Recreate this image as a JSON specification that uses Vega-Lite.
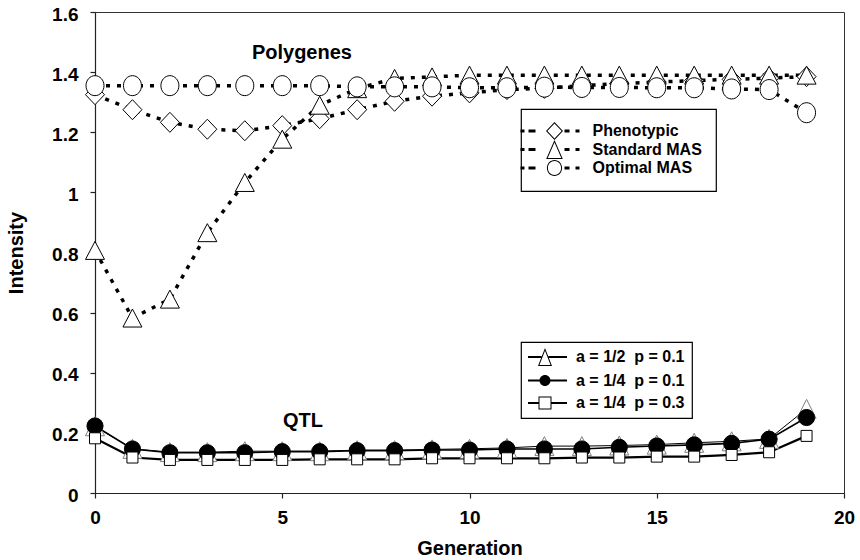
{
  "$schema": "https://vega.github.io/schema/vega-lite/v6.json",
  "width": 749,
  "height": 481,
  "autosize": {"type": "none"},
  "padding": {"left": 95, "top": 12, "right": 16, "bottom": 67},
  "background": "white",
  "config": {
    "font": "Liberation Sans",
    "view": {"stroke": "#333", "strokeWidth": 1},
    "axis": {
      "grid": false,
      "domainColor": "#222",
      "domainWidth": 1.2,
      "tickColor": "#222",
      "tickWidth": 1.2,
      "tickSize": 5,
      "labelFont": "Liberation Sans",
      "labelFontSize": 19,
      "labelFontWeight": "bold",
      "labelColor": "black",
      "titleFont": "Liberation Sans",
      "titleFontSize": 20,
      "titleFontWeight": "bold",
      "titleColor": "black"
    },
    "legend": {
      "labelFont": "Liberation Sans",
      "labelFontSize": 16,
      "labelFontWeight": "bold",
      "labelColor": "black",
      "strokeWidth": 1.2
    }
  },
  "datasets": {
    "poly": [
      {"gen": 0, "scheme": "Phenotypic", "value": 1.325},
      {"gen": 1, "scheme": "Phenotypic", "value": 1.275},
      {"gen": 2, "scheme": "Phenotypic", "value": 1.233},
      {"gen": 3, "scheme": "Phenotypic", "value": 1.21},
      {"gen": 4, "scheme": "Phenotypic", "value": 1.205},
      {"gen": 5, "scheme": "Phenotypic", "value": 1.222},
      {"gen": 6, "scheme": "Phenotypic", "value": 1.245},
      {"gen": 7, "scheme": "Phenotypic", "value": 1.275},
      {"gen": 8, "scheme": "Phenotypic", "value": 1.303},
      {"gen": 9, "scheme": "Phenotypic", "value": 1.32},
      {"gen": 10, "scheme": "Phenotypic", "value": 1.331},
      {"gen": 11, "scheme": "Phenotypic", "value": 1.342},
      {"gen": 12, "scheme": "Phenotypic", "value": 1.346},
      {"gen": 13, "scheme": "Phenotypic", "value": 1.355},
      {"gen": 14, "scheme": "Phenotypic", "value": 1.362},
      {"gen": 15, "scheme": "Phenotypic", "value": 1.367},
      {"gen": 16, "scheme": "Phenotypic", "value": 1.372},
      {"gen": 17, "scheme": "Phenotypic", "value": 1.376},
      {"gen": 18, "scheme": "Phenotypic", "value": 1.38},
      {"gen": 19, "scheme": "Phenotypic", "value": 1.385},
      {"gen": 0, "scheme": "Standard MAS", "value": 0.807},
      {"gen": 1, "scheme": "Standard MAS", "value": 0.582},
      {"gen": 2, "scheme": "Standard MAS", "value": 0.645},
      {"gen": 3, "scheme": "Standard MAS", "value": 0.866},
      {"gen": 4, "scheme": "Standard MAS", "value": 1.033},
      {"gen": 5, "scheme": "Standard MAS", "value": 1.177},
      {"gen": 6, "scheme": "Standard MAS", "value": 1.29},
      {"gen": 7, "scheme": "Standard MAS", "value": 1.345},
      {"gen": 8, "scheme": "Standard MAS", "value": 1.379},
      {"gen": 9, "scheme": "Standard MAS", "value": 1.384},
      {"gen": 10, "scheme": "Standard MAS", "value": 1.39},
      {"gen": 11, "scheme": "Standard MAS", "value": 1.39},
      {"gen": 12, "scheme": "Standard MAS", "value": 1.39},
      {"gen": 13, "scheme": "Standard MAS", "value": 1.39},
      {"gen": 14, "scheme": "Standard MAS", "value": 1.39},
      {"gen": 15, "scheme": "Standard MAS", "value": 1.39},
      {"gen": 16, "scheme": "Standard MAS", "value": 1.39},
      {"gen": 17, "scheme": "Standard MAS", "value": 1.39},
      {"gen": 18, "scheme": "Standard MAS", "value": 1.39},
      {"gen": 19, "scheme": "Standard MAS", "value": 1.39},
      {"gen": 0, "scheme": "Optimal MAS", "value": 1.355},
      {"gen": 1, "scheme": "Optimal MAS", "value": 1.355},
      {"gen": 2, "scheme": "Optimal MAS", "value": 1.355},
      {"gen": 3, "scheme": "Optimal MAS", "value": 1.355},
      {"gen": 4, "scheme": "Optimal MAS", "value": 1.355},
      {"gen": 5, "scheme": "Optimal MAS", "value": 1.355},
      {"gen": 6, "scheme": "Optimal MAS", "value": 1.355},
      {"gen": 7, "scheme": "Optimal MAS", "value": 1.351},
      {"gen": 8, "scheme": "Optimal MAS", "value": 1.351},
      {"gen": 9, "scheme": "Optimal MAS", "value": 1.351},
      {"gen": 10, "scheme": "Optimal MAS", "value": 1.348},
      {"gen": 11, "scheme": "Optimal MAS", "value": 1.348},
      {"gen": 12, "scheme": "Optimal MAS", "value": 1.35},
      {"gen": 13, "scheme": "Optimal MAS", "value": 1.349},
      {"gen": 14, "scheme": "Optimal MAS", "value": 1.349},
      {"gen": 15, "scheme": "Optimal MAS", "value": 1.348},
      {"gen": 16, "scheme": "Optimal MAS", "value": 1.348},
      {"gen": 17, "scheme": "Optimal MAS", "value": 1.344},
      {"gen": 18, "scheme": "Optimal MAS", "value": 1.342},
      {"gen": 19, "scheme": "Optimal MAS", "value": 1.265}
    ],
    "qtl": [
      {"gen": 0, "effect": "a = 1/2\u00a0 p = 0.1", "value": 0.222},
      {"gen": 1, "effect": "a = 1/2\u00a0 p = 0.1", "value": 0.147},
      {"gen": 2, "effect": "a = 1/2\u00a0 p = 0.1", "value": 0.136},
      {"gen": 3, "effect": "a = 1/2\u00a0 p = 0.1", "value": 0.136},
      {"gen": 4, "effect": "a = 1/2\u00a0 p = 0.1", "value": 0.139},
      {"gen": 5, "effect": "a = 1/2\u00a0 p = 0.1", "value": 0.139},
      {"gen": 6, "effect": "a = 1/2\u00a0 p = 0.1", "value": 0.139},
      {"gen": 7, "effect": "a = 1/2\u00a0 p = 0.1", "value": 0.1425},
      {"gen": 8, "effect": "a = 1/2\u00a0 p = 0.1", "value": 0.1425},
      {"gen": 9, "effect": "a = 1/2\u00a0 p = 0.1", "value": 0.145},
      {"gen": 10, "effect": "a = 1/2\u00a0 p = 0.1", "value": 0.147},
      {"gen": 11, "effect": "a = 1/2\u00a0 p = 0.1", "value": 0.15},
      {"gen": 12, "effect": "a = 1/2\u00a0 p = 0.1", "value": 0.156},
      {"gen": 13, "effect": "a = 1/2\u00a0 p = 0.1", "value": 0.156},
      {"gen": 14, "effect": "a = 1/2\u00a0 p = 0.1", "value": 0.158},
      {"gen": 15, "effect": "a = 1/2\u00a0 p = 0.1", "value": 0.161},
      {"gen": 16, "effect": "a = 1/2\u00a0 p = 0.1", "value": 0.167},
      {"gen": 17, "effect": "a = 1/2\u00a0 p = 0.1", "value": 0.172},
      {"gen": 18, "effect": "a = 1/2\u00a0 p = 0.1", "value": 0.18},
      {"gen": 19, "effect": "a = 1/2\u00a0 p = 0.1", "value": 0.28},
      {"gen": 0, "effect": "a = 1/4\u00a0 p = 0.1", "value": 0.223},
      {"gen": 1, "effect": "a = 1/4\u00a0 p = 0.1", "value": 0.1465},
      {"gen": 2, "effect": "a = 1/4\u00a0 p = 0.1", "value": 0.134},
      {"gen": 3, "effect": "a = 1/4\u00a0 p = 0.1", "value": 0.134},
      {"gen": 4, "effect": "a = 1/4\u00a0 p = 0.1", "value": 0.134},
      {"gen": 5, "effect": "a = 1/4\u00a0 p = 0.1", "value": 0.1375},
      {"gen": 6, "effect": "a = 1/4\u00a0 p = 0.1", "value": 0.1375},
      {"gen": 7, "effect": "a = 1/4\u00a0 p = 0.1", "value": 0.141},
      {"gen": 8, "effect": "a = 1/4\u00a0 p = 0.1", "value": 0.141},
      {"gen": 9, "effect": "a = 1/4\u00a0 p = 0.1", "value": 0.143},
      {"gen": 10, "effect": "a = 1/4\u00a0 p = 0.1", "value": 0.143},
      {"gen": 11, "effect": "a = 1/4\u00a0 p = 0.1", "value": 0.1465},
      {"gen": 12, "effect": "a = 1/4\u00a0 p = 0.1", "value": 0.1465},
      {"gen": 13, "effect": "a = 1/4\u00a0 p = 0.1", "value": 0.1465},
      {"gen": 14, "effect": "a = 1/4\u00a0 p = 0.1", "value": 0.152},
      {"gen": 15, "effect": "a = 1/4\u00a0 p = 0.1", "value": 0.1565},
      {"gen": 16, "effect": "a = 1/4\u00a0 p = 0.1", "value": 0.16},
      {"gen": 17, "effect": "a = 1/4\u00a0 p = 0.1", "value": 0.165},
      {"gen": 18, "effect": "a = 1/4\u00a0 p = 0.1", "value": 0.179},
      {"gen": 19, "effect": "a = 1/4\u00a0 p = 0.1", "value": 0.251},
      {"gen": 0, "effect": "a = 1/4\u00a0 p = 0.3", "value": 0.182},
      {"gen": 1, "effect": "a = 1/4\u00a0 p = 0.3", "value": 0.118},
      {"gen": 2, "effect": "a = 1/4\u00a0 p = 0.3", "value": 0.11},
      {"gen": 3, "effect": "a = 1/4\u00a0 p = 0.3", "value": 0.11},
      {"gen": 4, "effect": "a = 1/4\u00a0 p = 0.3", "value": 0.11},
      {"gen": 5, "effect": "a = 1/4\u00a0 p = 0.3", "value": 0.11},
      {"gen": 6, "effect": "a = 1/4\u00a0 p = 0.3", "value": 0.112},
      {"gen": 7, "effect": "a = 1/4\u00a0 p = 0.3", "value": 0.112},
      {"gen": 8, "effect": "a = 1/4\u00a0 p = 0.3", "value": 0.112},
      {"gen": 9, "effect": "a = 1/4\u00a0 p = 0.3", "value": 0.1155},
      {"gen": 10, "effect": "a = 1/4\u00a0 p = 0.3", "value": 0.1155},
      {"gen": 11, "effect": "a = 1/4\u00a0 p = 0.3", "value": 0.1155},
      {"gen": 12, "effect": "a = 1/4\u00a0 p = 0.3", "value": 0.1155},
      {"gen": 13, "effect": "a = 1/4\u00a0 p = 0.3", "value": 0.118},
      {"gen": 14, "effect": "a = 1/4\u00a0 p = 0.3", "value": 0.118},
      {"gen": 15, "effect": "a = 1/4\u00a0 p = 0.3", "value": 0.121},
      {"gen": 16, "effect": "a = 1/4\u00a0 p = 0.3", "value": 0.121},
      {"gen": 17, "effect": "a = 1/4\u00a0 p = 0.3", "value": 0.1265},
      {"gen": 18, "effect": "a = 1/4\u00a0 p = 0.3", "value": 0.1355},
      {"gen": 19, "effect": "a = 1/4\u00a0 p = 0.3", "value": 0.19}
    ]
  },
  "layer": [
    {
      "data": {"name": "poly"},
      "mark": {"type": "line", "stroke": "black", "strokeWidth": 3.5, "strokeDash": [4, 7], "strokeCap": "butt"},
      "encoding": {
        "x": {
          "field": "gen", "type": "quantitative",
          "scale": {"domain": [0, 20], "nice": false},
          "axis": {"values": [0, 5, 10, 15, 20], "title": "Generation", "labelPadding": 10, "titlePadding": 11, "labelFlush": false}
        },
        "y": {
          "field": "value", "type": "quantitative",
          "scale": {"domain": [0, 1.6], "nice": false, "zero": false},
          "axis": {"values": [0, 0.2, 0.4, 0.6, 0.8, 1, 1.2, 1.4, 1.6], "format": "~g", "title": "Intensity", "labelPadding": 12, "labelOffset": 2, "titlePadding": 25, "labelFlush": false}
        },
        "detail": {"field": "scheme", "type": "nominal"}
      }
    },
    {
      "data": {"name": "qtl"},
      "mark": {"type": "line", "stroke": "black"},
      "encoding": {
        "x": {"field": "gen", "type": "quantitative"},
        "y": {"field": "value", "type": "quantitative"},
        "detail": {"field": "effect", "type": "nominal"},
        "strokeWidth": {
          "field": "effect", "type": "nominal", "legend": null,
          "scale": {"domain": ["a = 1/2\u00a0 p = 0.1", "a = 1/4\u00a0 p = 0.1", "a = 1/4\u00a0 p = 0.3"], "range": [1, 2.2, 1.3]}
        }
      }
    },
    {
      "data": {"name": "poly"},
      "mark": {"type": "point", "filled": true, "fill": "white", "stroke": "black", "strokeWidth": 1, "size": 400, "opacity": 1},
      "encoding": {
        "x": {"field": "gen", "type": "quantitative"},
        "y": {"field": "value", "type": "quantitative"},
        "shape": {
          "field": "scheme", "type": "nominal", "legend": null,
          "scale": {
            "domain": ["Phenotypic", "Standard MAS", "Optimal MAS"],
            "range": [
              "M0,-1L0.95,0L0,1L-0.95,0Z",
              "M0,-0.9L0.95,0.9L-0.95,0.9Z",
              "M-0.9,0A0.9,1 0 1 1 0.9,0A0.9,1 0 1 1 -0.9,0Z"
            ]
          }
        }
      }
    },
    {
      "data": {"name": "qtl"},
      "mark": {"type": "point", "filled": true, "strokeWidth": 1, "opacity": 1},
      "encoding": {
        "x": {"field": "gen", "type": "quantitative"},
        "y": {"field": "value", "type": "quantitative"},
        "shape": {
          "field": "effect", "type": "nominal", "legend": null,
          "scale": {"domain": ["a = 1/2\u00a0 p = 0.1", "a = 1/4\u00a0 p = 0.1", "a = 1/4\u00a0 p = 0.3"], "range": ["M0,-0.95L0.95,0.95L-0.95,0.95Z", "circle", "square"]}
        },
        "size": {
          "field": "effect", "type": "nominal", "legend": null,
          "scale": {"domain": ["a = 1/2\u00a0 p = 0.1", "a = 1/4\u00a0 p = 0.1", "a = 1/4\u00a0 p = 0.3"], "range": [400, 121, 169]}
        },
        "fill": {
          "field": "effect", "type": "nominal", "legend": null,
          "scale": {"domain": ["a = 1/2\u00a0 p = 0.1", "a = 1/4\u00a0 p = 0.1", "a = 1/4\u00a0 p = 0.3"], "range": ["white", "black", "white"]}
        },
        "stroke": {
          "field": "effect", "type": "nominal", "legend": null,
          "scale": {"domain": ["a = 1/2\u00a0 p = 0.1", "a = 1/4\u00a0 p = 0.1", "a = 1/4\u00a0 p = 0.3"], "range": ["#808080", "black", "black"]}
        }
      }
    },
    {
      "data": {"values": [{}]},
      "mark": {"type": "text", "text": "Polygenes", "align": "left", "baseline": "alphabetic", "font": "Liberation Sans", "fontSize": 20, "fontWeight": "bold", "color": "black"},
      "encoding": {
        "x": {"datum": 4.19, "type": "quantitative"},
        "y": {"datum": 1.445, "type": "quantitative"}
      }
    },
    {
      "data": {"values": [{}]},
      "mark": {"type": "text", "text": "QTL", "align": "left", "baseline": "alphabetic", "font": "Liberation Sans", "fontSize": 20, "fontWeight": "bold", "color": "black"},
      "encoding": {
        "x": {"datum": 5.02, "type": "quantitative"},
        "y": {"datum": 0.221, "type": "quantitative"}
      }
    },
    {
      "data": {"name": "poly"},
      "transform": [{"filter": "datum.gen < 0"}],
      "mark": {"type": "point", "filled": true, "fill": "black", "strokeWidth": 0, "size": 256, "opacity": 1},
      "encoding": {
        "x": {"field": "gen", "type": "quantitative"},
        "y": {"field": "value", "type": "quantitative"},
        "shape": {
          "field": "scheme", "type": "nominal",
          "scale": {
            "domain": ["Phenotypic", "Standard MAS", "Optimal MAS"],
            "range": [
              "M-4.25,-0.1875H-3.75V0.1875H-4.25ZM-3.25,-0.1875H-2.375V0.1875H-3.25ZM1.25,-0.1875H1.875V0.1875H1.25ZM2.625,-0.1875H3.125V0.1875H2.625ZM0,-1.125L1.06,0L0,1.125L-1.06,0ZM0,-0.943L-0.888,0L0,0.943L0.888,0Z",
              "M-4.25,-0.1875H-3.75V0.1875H-4.25ZM-3.25,-0.1875H-2.375V0.1875H-3.25ZM1.25,-0.1875H1.875V0.1875H1.25ZM2.625,-0.1875H3.125V0.1875H2.625ZM0,-1.19L1.04,1.19L-1.04,1.19ZM0,-0.878L-0.849,1.065L0.849,1.065Z",
              "M-4.25,-0.1875H-3.75V0.1875H-4.25ZM-3.25,-0.1875H-2.375V0.1875H-3.25ZM1.25,-0.1875H1.875V0.1875H1.25ZM2.625,-0.1875H3.125V0.1875H2.625ZM-0.95,0A0.95,1 0 1 1 0.95,0A0.95,1 0 1 1 -0.95,0ZM-0.825,0A0.825,0.875 0 1 0 0.825,0A0.825,0.875 0 1 0 -0.825,0Z"
            ]
          },
          "legend": {
            "orient": "none", "legendX": 426, "legendY": 97, "title": null,
            "padding": 14, "strokeColor": "black", "fillColor": "white",
            "symbolSize": 256, "symbolStrokeWidth": 0, "symbolFillColor": "black",
            "symbolOffset": 11.5, "labelOffset": 30, "rowPadding": -0.5,
            "encode": {"symbols": {"fill": {"value": "black"}}}
          }
        }
      }
    },
    {
      "data": {"name": "qtl"},
      "transform": [{"filter": "datum.gen < 0"}],
      "mark": {"type": "point", "filled": true, "fill": "black", "strokeWidth": 0, "size": 256, "opacity": 1},
      "encoding": {
        "x": {"field": "gen", "type": "quantitative"},
        "y": {"field": "value", "type": "quantitative"},
        "shape": {
          "field": "effect", "type": "nominal",
          "scale": {
            "domain": ["a = 1/2\u00a0 p = 0.1", "a = 1/4\u00a0 p = 0.1", "a = 1/4\u00a0 p = 0.3"],
            "range": [
              "M-2.125,-0.125H-0.4375V0.125H-2.125ZM0.4375,-0.125H2.75V0.125H0.4375ZM0,-1.125L0.875,1.125L-0.875,1.125ZM0,-0.78L-0.692,1L0.692,1Z",
              "M-2.125,-0.125H2.75V0.125H-2.125ZM-0.6875,0A0.6875,0.6875 0 1 1 0.6875,0A0.6875,0.6875 0 1 1 -0.6875,0Z",
              "M-2.125,-0.125H-0.8125V0.125H-2.125ZM0.8125,-0.125H2.75V0.125H0.8125ZM-0.8125,-0.8125H0.8125V0.8125H-0.8125ZM-0.6875,-0.6875V0.6875H0.6875V-0.6875Z"
            ]
          },
          "legend": {
            "orient": "none", "legendX": 426, "legendY": 330, "title": null,
            "padding": 7, "strokeColor": "black", "fillColor": "white",
            "symbolSize": 256, "symbolStrokeWidth": 0, "symbolFillColor": "black",
            "symbolOffset": 9, "labelOffset": 23, "rowPadding": 6.5,
            "encode": {"symbols": {"fill": {"value": "black"}}}
          }
        }
      }
    }
  ],
  "resolve": {
    "scale": {"shape": "independent", "fill": "independent", "stroke": "independent", "size": "independent", "strokeWidth": "independent"},
    "legend": {"shape": "independent", "fill": "independent"}
  }
}
